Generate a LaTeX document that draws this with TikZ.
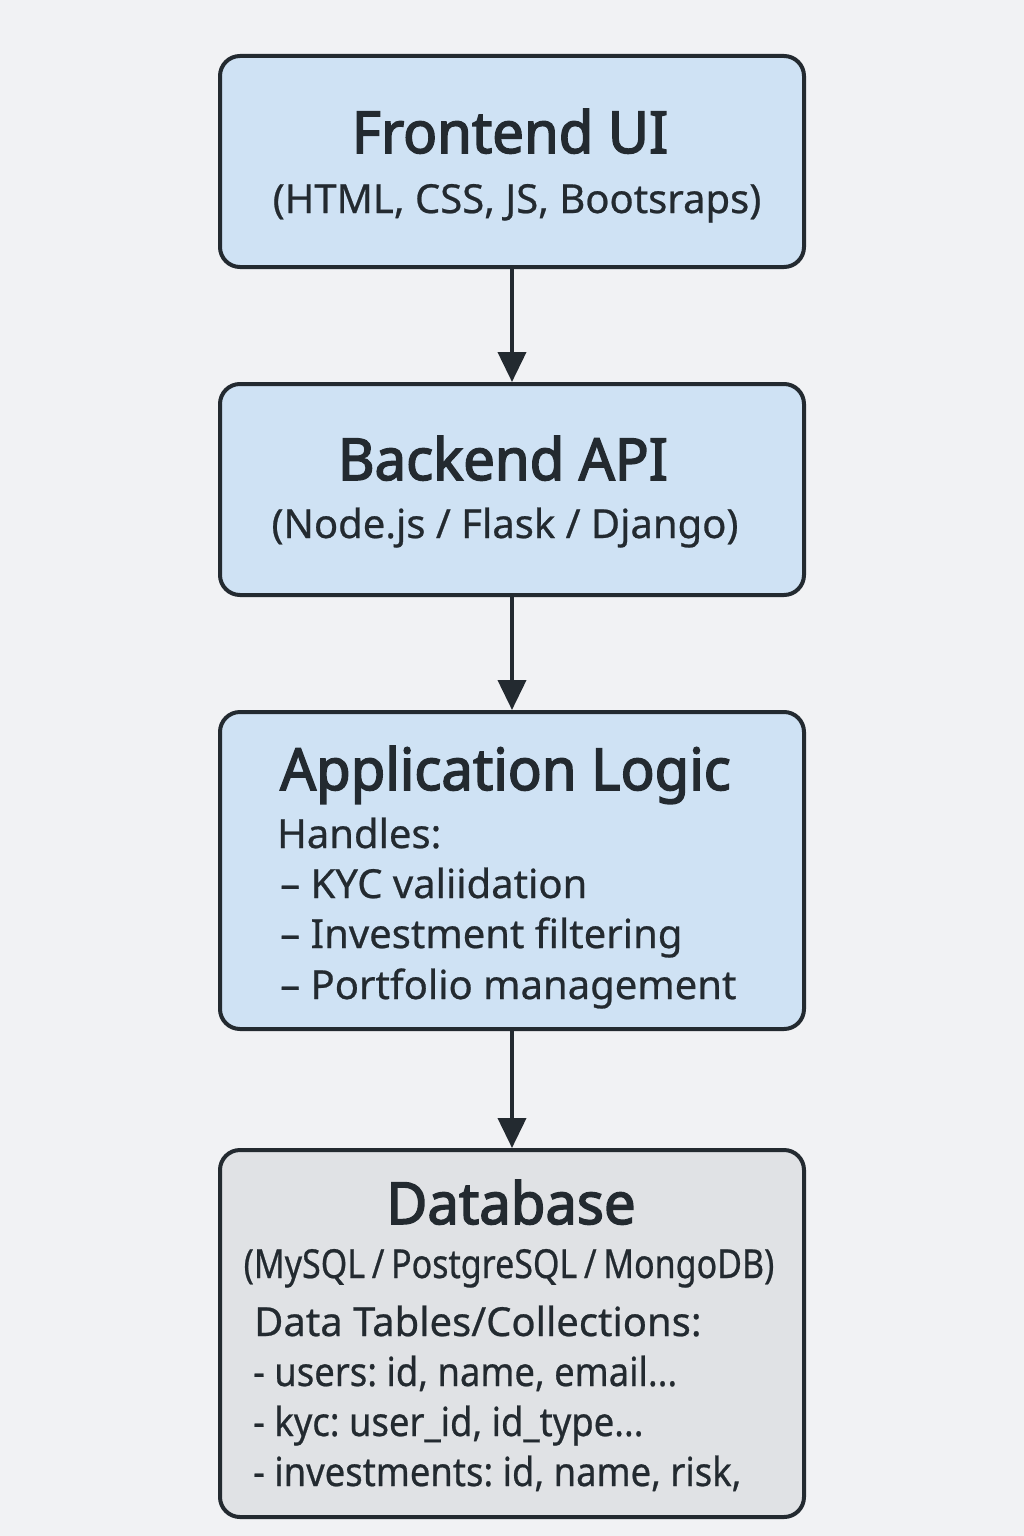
\documentclass[tikz,border=0pt]{standalone}
\usepackage{fontspec}
\setmainfont{Noto Sans}[FakeBold=0.6]
\newfontfamily\titlef{Noto Sans}[FakeBold=2.6, FakeStretch=0.97]
\newfontfamily\narrowf{Noto Sans}[FakeBold=0.6, FakeStretch=0.85]
\newfontfamily\dbf{Noto Sans}[FakeBold=0.6, FakeStretch=0.91]
\usetikzlibrary{arrows.meta}
\definecolor{bgc}{HTML}{F1F2F4}
\definecolor{bluef}{HTML}{CFE2F4}
\definecolor{grayf}{HTML}{E0E2E5}
\definecolor{ink}{HTML}{232A30}
\tikzset{
  box/.style={draw=ink, line width=4pt, rounded corners=20pt, minimum width=584pt, inner sep=0pt},
  title/.style={text=ink, font=\fontsize{58}{60}\selectfont\titlef, anchor=base, inner sep=0pt},
  sub/.style={text=ink, font=\fontsize{40}{44}\selectfont, anchor=base, inner sep=0pt},
  body/.style={text=ink, font=\fontsize{40}{44}\selectfont, anchor=base west, inner sep=0pt},
  dbline/.style={body, font=\fontsize{40}{44}\selectfont\dbf}
}
\tikzset{conn/.style={draw=ink, line width=4pt, -{Triangle[length=30pt,width=28pt]}}}
\begin{document}
\frenchspacing
\begin{tikzpicture}[x=1pt,y=-1pt]
\useasboundingbox (0,0) rectangle (1024,1536);
\fill[bgc] (0,0) rectangle (1024,1536);
% boxes
\node[box, fill=bluef, minimum height=211pt] (f) at (512,161.5) {};
\node[box, fill=bluef, minimum height=211pt] (b) at (512,489.5) {};
\node[box, fill=bluef, minimum height=317pt] (a) at (512,870.5) {};
\node[box, fill=grayf, minimum height=367pt] (d) at (512,1333.5) {};
% connectors
\draw[conn] (f.south) -- (b.north);
\draw[conn] (b.south) -- (a.north);
\draw[conn] (a.south) -- (d.north);
% texts
\node[title] (ft) at (510,153) {Frontend UI};
\node[sub] (fs) at (517,213) {(HTML, CSS, JS, Bootsraps)};
\node[title] (bt) at (503,480) {Backend API};
\node[sub] (bs) at (505,538) {(Node.js / Flask / Django)};
\node[title, anchor=base west] (at) at (280,790) {Application Logic};
\node[body] (a1) at (277,848) {Handles:};
\node[body] (a2) at (280,898) {– KYC valiidation};
\node[body] (a3) at (280,948) {– Investment filtering};
\node[body] (a4) at (280,999) {– Portfolio management};
\node[title] (dt) at (511,1224) {Database};
\node[sub, font=\fontsize{40}{44}\selectfont\narrowf] (ds) at (509,1278) {(MySQL\,/\,PostgreSQL\,/\,MongoDB)};
\node[body] (d1) at (254,1336) {Data Tables/Collections:};
\node[dbline] (d2) at (253,1386) {- users: id, name, email...};
\node[dbline] (d3) at (253,1436) {- kyc: user\_id, id\_type...};
\node[dbline] (d4) at (253,1486) {- investments: id, name, risk,};
\end{tikzpicture}
\end{document}
